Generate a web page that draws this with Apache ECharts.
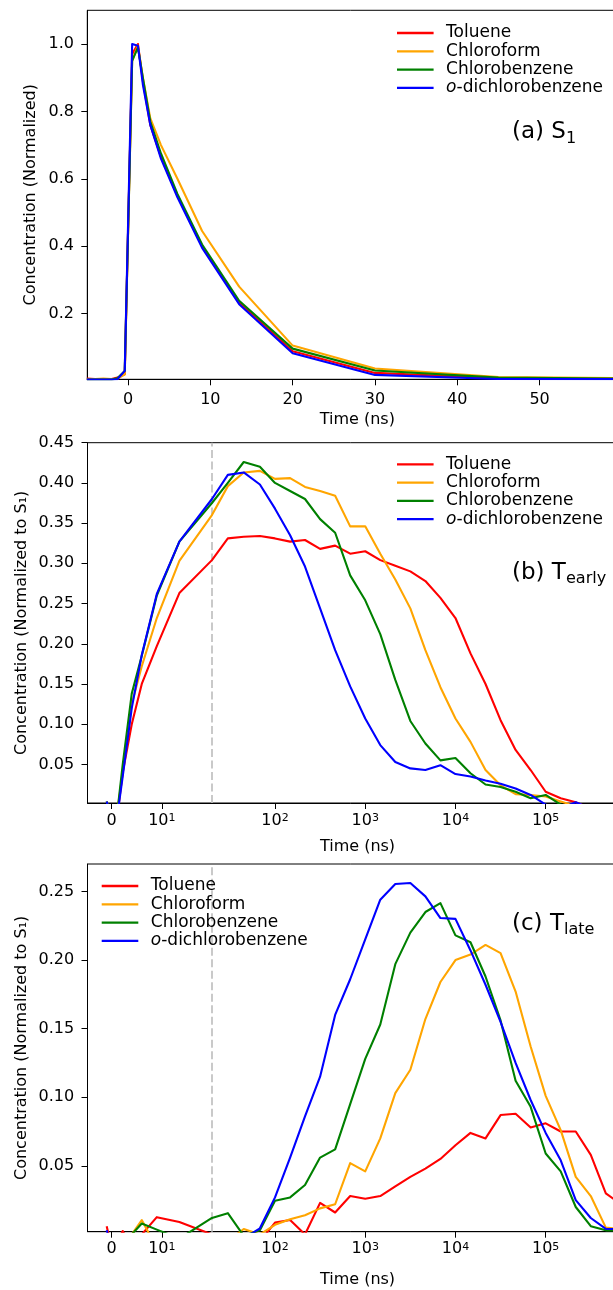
<!DOCTYPE html>
<html>
<head>
<meta charset="utf-8">
<script src="https://cdn.jsdelivr.net/npm/echarts@6/dist/echarts.min.js"></script>
<style>
html,body{margin:0;padding:0;background:#fff;}
#chart{width:613px;height:1290px;}
</style>
</head>
<body>
<div id="chart"></div>
<script>
// ---------------- data ----------------
const seriesNames = ['Toluene', 'Chloroform', 'Chlorobenzene', 'o-dichlorobenzene'];
const seriesColors = ['#ff0000', '#ffa500', '#008000', '#0000ff'];

// Panel (a) S1, linear time axis (ns)
const timesA = [-5, -4, -3, -2, -1.3, -0.4, 0.5, 1.2, 1.8, 2.7, 4, 6, 9, 13.5, 20, 30, 45, 68];
const tolueneA = [0.007, 0.006, 0.006, 0.006, 0.010, 0.02, 0.97, 1.0, 0.89, 0.76, 0.665, 0.55, 0.40, 0.232, 0.088, 0.024, 0.008, 0.006];
const chloroformA = [0.005, 0.006, 0.007, 0.006, 0.006, 0.02, 0.95, 0.995, 0.90, 0.78, 0.70, 0.60, 0.445, 0.28, 0.105, 0.037, 0.012, 0.007];
const chlorobenzeneA = [0.004, 0.004, 0.004, 0.004, 0.008, 0.03, 0.95, 0.99, 0.90, 0.77, 0.675, 0.555, 0.405, 0.238, 0.096, 0.031, 0.010, 0.006];
const dcbA = [0.004, 0.004, 0.004, 0.004, 0.005, 0.03, 1.0, 0.995, 0.88, 0.76, 0.66, 0.545, 0.395, 0.228, 0.082, 0.018, 0.006, 0.005];

// Panels (b) and (c), symlog time axis (ns)
const timesBC = [-1, 0, 1.2, 2.2, 4, 6, 9, 13.5, 20, 30, 45, 68, 100, 147, 215, 316, 464, 681,
  1000, 1468, 2154, 3162, 4642, 6813, 10000, 14678, 21544, 31623, 46416, 68129,
  100000, 146780, 215443, 316228, 464159, 681292];

const tolueneB = [-0.01, -0.03, -0.01, 0.04, 0.10, 0.15, 0.197, 0.263, 0.304, 0.331, 0.333, 0.334, 0.331, 0.327, 0.329, 0.318, 0.322, 0.312,
  0.315, 0.304, 0.297, 0.29, 0.278, 0.257, 0.232, 0.188, 0.15, 0.105, 0.068, 0.043,
  0.016, 0.008, 0.003, -0.005, -0.005, -0.005];
const chloroformB = [0.004, -0.02, -0.005, 0.04, 0.125, 0.172, 0.232, 0.303, 0.36, 0.396, 0.413, 0.415, 0.405, 0.406, 0.395, 0.39, 0.384, 0.346,
  0.346, 0.312, 0.28, 0.244, 0.192, 0.146, 0.107, 0.078, 0.043, 0.024, 0.013, 0.012,
  0.010, 0.004, -0.002, -0.005, -0.005, -0.005];
const chlorobenzeneB = [0.004, -0.02, -0.005, 0.05, 0.138, 0.185, 0.26, 0.327, 0.375, 0.40, 0.426, 0.42, 0.40, 0.39, 0.38, 0.355, 0.338, 0.285,
  0.254, 0.212, 0.155, 0.104, 0.076, 0.055, 0.058, 0.039, 0.025, 0.022, 0.016, 0.008,
  0.012, 0.0, -0.005, -0.005, -0.005, -0.005];
const dcbB = [0.004, -0.02, -0.01, 0.035, 0.12, 0.186, 0.262, 0.327, 0.38, 0.41, 0.413, 0.398, 0.368, 0.335, 0.296, 0.244, 0.192, 0.147,
  0.107, 0.074, 0.053, 0.045, 0.043, 0.049, 0.038, 0.035, 0.03, 0.026, 0.02, 0.012,
  0.0, -0.005, 0.003, -0.005, -0.005, -0.005];

const tolueneC = [0.006, -0.01, -0.005, 0.0025, -0.01, 0.0, 0.0126, 0.009, 0.0, -0.005, -0.005, -0.005, 0.0086, 0.0105, 0.0, 0.023, 0.016, 0.028,
  0.026, 0.028, 0.035, 0.042, 0.048, 0.055, 0.065, 0.074, 0.07, 0.087, 0.088, 0.078,
  0.081, 0.075, 0.075, 0.058, 0.03, 0.022];
const chloroformC = [-0.005, -0.01, -0.005, -0.005, 0.0, 0.0105, -0.01, -0.005, -0.005, -0.005, 0.004, 0.0, 0.007, 0.011, 0.014, 0.019, 0.022, 0.052,
  0.046, 0.07, 0.103, 0.12, 0.157, 0.184, 0.20, 0.204, 0.211, 0.205, 0.177, 0.137,
  0.101, 0.076, 0.042, 0.028, 0.005, 0.004];
const chlorobenzeneC = [-0.005, -0.01, -0.005, -0.005, 0.0, 0.008, 0.0035, -0.003, 0.012, 0.0155, -0.001, 0.003, 0.0245, 0.027, 0.036, 0.056, 0.062, 0.095,
  0.128, 0.153, 0.197, 0.22, 0.235, 0.2415, 0.218, 0.213, 0.188, 0.156, 0.112, 0.093,
  0.059, 0.046, 0.02, 0.006, 0.003, 0.003];
const dcbC = [0.003, -0.01, -0.005, -0.005, -0.005, -0.005, -0.005, -0.005, -0.005, -0.005, -0.003, 0.0045, 0.027, 0.056, 0.086, 0.115, 0.16, 0.186,
  0.215, 0.244, 0.2554, 0.2561, 0.2464, 0.2306, 0.230, 0.207, 0.182, 0.155, 0.125, 0.098,
  0.074, 0.054, 0.025, 0.012, 0.004, 0.004];

// tick labels
const ticksA_x = [0, 10, 20, 30, 40, 50];
const ticksA_y = [0.2, 0.4, 0.6, 0.8, 1.0];
const ticksB_y = [0.05, 0.10, 0.15, 0.20, 0.25, 0.30, 0.35, 0.40, 0.45];
const ticksC_y = [0.05, 0.10, 0.15, 0.20, 0.25];
const ticksLog_x = [0, 10, 100, 1000, 10000, 100000];
const ticksLog_exp = [null, 1, 2, 3, 4, 5];
const markerTime = 20;

// ---------------- helpers ----------------
function symlog(x) {
  const L = 20, s = 1 / (1 - 1 / 10);
  const a = Math.abs(x);
  const y = a <= L ? a * s : L * (s + Math.log10(a / L));
  return x < 0 ? -y : y;
}
const FONT = 'DejaVu Sans';
const FS = 16;
const LFS = 17;

function logLabel(v) {
  for (let i = 0; i < ticksLog_x.length; i++) {
    if (Math.abs(symlog(ticksLog_x[i]) - v) < 1e-6) {
      return ticksLog_exp[i] === null ? '{n|0}' : '{n|10}{p|' + ticksLog_exp[i] + '}';
    }
  }
  return '';
}

const chart = echarts.init(document.getElementById('chart'), null, {renderer: 'canvas'});

const grids = [
  {left: 87.3, top: 10.3, width: 540, height: 369},
  {left: 87.5, top: 442.7, width: 540, height: 360.3},
  {left: 87.5, top: 864, width: 540, height: 367.7}
].map(g => Object.assign(g, {show: true, borderColor: '#000', borderWidth: 1, backgroundColor: 'transparent', outerBoundsMode: 'none'}));

const axisCommon = {
  axisLine: {show: true, onZero: false, lineStyle: {color: '#000', width: 1}},
  axisTick: {show: true, inside: false, length: 6, lineStyle: {color: '#000', width: 1}},
  splitLine: {show: false},
  nameMoveOverlap: false,
  nameTextStyle: {fontFamily: FONT, fontSize: FS, color: '#000', lineHeight: 16}
};

const richLog = {
  n: {fontFamily: FONT, fontSize: FS, color: '#000', lineHeight: 16, verticalAlign: 'bottom'},
  p: {fontFamily: FONT, fontSize: 11, color: '#000', lineHeight: 11, verticalAlign: 'top', padding: [0, 0, 8, 0]}
};

function xLog(gi, gap) {
  return Object.assign({}, axisCommon, {
    type: 'value', gridIndex: gi, min: -5.365, max: 114.34,
    name: 'Time (ns)', nameLocation: 'middle', nameGap: gap,
    axisTick: Object.assign({}, axisCommon.axisTick, {customValues: ticksLog_x.map(symlog)}),
    axisLabel: {customValues: ticksLog_x.map(symlog), margin: 9.6, formatter: logLabel, rich: richLog,
      fontFamily: FONT, fontSize: FS, color: '#000'}
  });
}
function yAxis(gi, min, max, ticks, dec, name, gap) {
  return Object.assign({}, axisCommon, {
    type: 'value', gridIndex: gi, min: min, max: max,
    name: name, nameLocation: 'middle', nameGap: gap, nameRotate: 90,
    axisTick: Object.assign({}, axisCommon.axisTick, {customValues: ticks}),
    axisLabel: {customValues: ticks, margin: 13.3, fontFamily: FONT, fontSize: FS, color: '#000',
      formatter: v => v.toFixed(dec)}
  });
}

const xAxes = [
  Object.assign({}, axisCommon, {
    type: 'value', gridIndex: 0, min: -4.95, max: 60.66,
    name: 'Time (ns)', nameLocation: 'middle', nameGap: 33,
    axisTick: Object.assign({}, axisCommon.axisTick, {customValues: ticksA_x}),
    axisLabel: {customValues: ticksA_x, margin: 12.9, fontFamily: FONT, fontSize: FS, color: '#000', lineHeight: 16}
  }),
  xLog(1, 35.6),
  xLog(2, 40.3)
];
const yAxes = [
  yAxis(0, 0.005, 1.1, ticksA_y, 1, 'Concentration (Normalized)', 48.3),
  yAxis(1, 0.002, 0.45, ticksB_y, 2, 'Concentration (Normalized to S\u2081)', 58),
  yAxis(2, 0.002, 0.27, ticksC_y, 2, 'Concentration (Normalized to S\u2081)', 58)
];

const dataA = [tolueneA, chloroformA, chlorobenzeneA, dcbA];
const dataB = [tolueneB, chloroformB, chlorobenzeneB, dcbB];
const dataC = [tolueneC, chloroformC, chlorobenzeneC, dcbC];

const series = [];
function addSeries(gi, times, arrs, xf, withMarker) {
  arrs.forEach((vals, k) => {
    const s = {
      type: 'line', name: seriesNames[k], xAxisIndex: gi, yAxisIndex: gi,
      data: times.map((t, i) => [xf(t), vals[i]]),
      showSymbol: false, symbol: 'none', clip: true, animation: false,
      lineStyle: {color: seriesColors[k], width: 2.1, join: 'round'},
      itemStyle: {color: seriesColors[k]},
      z: 3 + k
    };
    if (withMarker && k === 0) {
      s.markLine = {
        silent: true, symbol: ['none', 'none'], label: {show: false}, animation: false,
        lineStyle: {color: '#c0c0c0', type: [8, 3.5], width: 1.7},
        data: [{xAxis: symlog(markerTime)}], z: 1
      };
    }
    series.push(s);
  });
}
addSeries(0, timesA, dataA, t => t, false);
addSeries(1, timesBC, dataB, symlog, true);
addSeries(2, timesBC, dataC, symlog, true);

function legend(left, top) {
  return {
    orient: 'vertical', left: left, top: top, padding: 0, itemGap: 0,
    itemWidth: 36.6, itemHeight: 2.3,
    icon: 'path://M0,0 L40,0 L40,2.5 L0,2.5 Z',
    data: seriesNames.map((n, k) => ({name: n, itemStyle: {color: seriesColors[k]}})),
    selectedMode: false,
    formatter: n => n === 'o-dichlorobenzene' ? '{i|o}-dichlorobenzene' : n,
    textStyle: {fontFamily: FONT, fontSize: LFS, color: '#000', lineHeight: 18.3, padding: [0, 0, 0, 7.5],
      rich: {i: {fontFamily: FONT, fontSize: LFS, fontStyle: 'italic', color: '#000', lineHeight: 18.3}}}
  };
}

function annot(x, y, main, sub) {
  return {
    type: 'text', left: x, top: y - 14, z: 10,
    style: {
      text: '{m|' + main + '}{s|' + sub + '}',
      rich: {
        m: {fontFamily: FONT, fontSize: 23, color: '#000', lineHeight: 28, verticalAlign: 'middle'},
        s: {fontFamily: FONT, fontSize: 16.1, color: '#000', lineHeight: 12, verticalAlign: 'bottom'}
      }
    }
  };
}

chart.setOption({
  animation: false,
  backgroundColor: '#fff',
  grid: grids,
  xAxis: xAxes,
  yAxis: yAxes,
  legend: [legend(397, 23.85), legend(397, 455.15), legend(101.7, 876.85)],
  graphic: [annot(512, 135, '(a) S', '1'), annot(512, 575.5, '(b) T', 'early'), annot(512, 926.7, '(c) T', 'late')],
  series: series
});
</script>
</body>
</html>
